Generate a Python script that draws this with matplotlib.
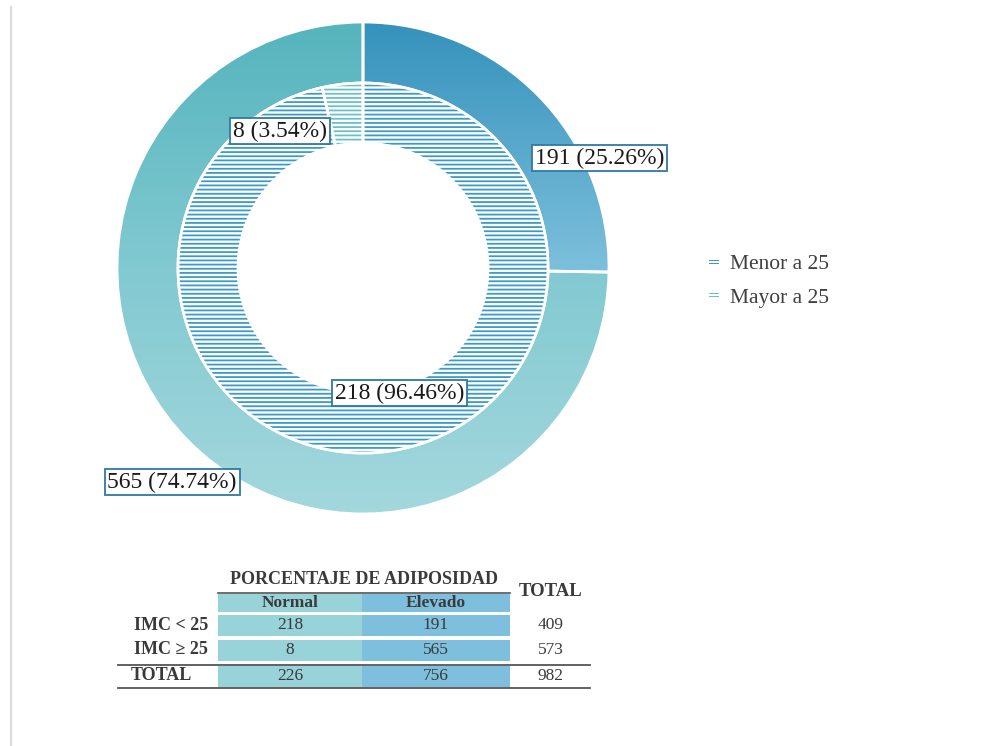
import numpy as np
import matplotlib.pyplot as plt
from matplotlib.colors import LinearSegmentedColormap
from matplotlib.patches import Rectangle
from matplotlib.lines import Line2D

plt.rcParams['font.family'] = ['Liberation Serif', 'DejaVu Serif', 'DejaVu Sans']
plt.rcParams['hatch.linewidth'] = 1.3

# datos: IMC vs porcentaje de adiposidad
grupos = ['Menor a 25', 'Mayor a 25']
normal = [218, 8]
elevado = [191, 565]
filas = ['IMC < 25', 'IMC \u2265 25']
columnas = ['Normal', 'Elevado']

# colores
azul = '#3b9bc6'
turquesa = '#6cc0c8'
grad_elev = [['#3592bc', '#7cbfdb', '#a8d6ea'], ['#55b4bd', '#82c9d1', '#a3d8dd']]
borde_etq = '#2f7aa0'

W, H = 990, 746
fig = plt.figure(figsize=(W / 100, H / 100), dpi=100)

# linea gris a la izquierda
fig.add_artist(Line2D([11 / W, 11 / W], [0, 1 - 7 / H], color='#dcdcdc', lw=1.6))

# ---- dona ----
cx, cy, R = 363, 268, 246
ax = fig.add_axes([(cx - R) / W, 1 - (cy + R) / H, 2 * R / W, 2 * R / H])
ax.set_xlim(-1, 1)
ax.set_ylim(-1, 1)
ax.axis('off')

r_in = 185 / R
r_hole = 125 / R

wed_out, _ = ax.pie(elevado, radius=1, startangle=90, counterclock=False,
                    wedgeprops=dict(width=1 - r_in, edgecolor='white', linewidth=2))
for w, cols in zip(wed_out, grad_elev):
    w.set_facecolor('none')
    cmap = LinearSegmentedColormap.from_list('g', cols)
    im = ax.imshow(np.linspace(0, 1, 256).reshape(-1, 1), cmap=cmap, aspect='auto',
                   extent=[-1, 1, -1, 1], origin='upper', zorder=0)
    im.set_clip_path(w)

wed_in, _ = ax.pie(normal, radius=r_in, startangle=90, counterclock=False,
                   wedgeprops=dict(width=r_in - r_hole, linewidth=0))
for w, c in zip(wed_in, [azul, turquesa]):
    w.set_facecolor('white')
    w.set_edgecolor(c)
    w.set_hatch('----')
# borde blanco del anillo interior
ax.pie(normal, radius=r_in, startangle=90, counterclock=False,
       wedgeprops=dict(width=r_in - r_hole, facecolor='none', edgecolor='white', linewidth=2))
ax.set_xlim(-1, 1)
ax.set_ylim(-1, 1)

# etiquetas de datos
pos_elev = [(0.963, 0.447), (-0.776, -0.870)]
pos_norm = [(0.150, -0.508), (-0.337, 0.557)]
for vals, pos in [(elevado, pos_elev), (normal, pos_norm)]:
    tot = sum(vals)
    for v, (x, y) in zip(vals, pos):
        ax.text(x, y, f'{v} ({v / tot * 100:.2f}%)', ha='center', va='center',
                fontsize=17, color='#1a1a1a', zorder=5,
                bbox=dict(boxstyle='square,pad=0.12', fc='white', ec=borde_etq, lw=1.3))

# leyenda
handles = [Line2D([], [], ls='none', marker='$=$', markersize=7, color=c, markeredgewidth=0)
           for c in [azul, turquesa]]
fig.legend(handles, grupos, loc='center left', bbox_to_anchor=(688 / W, 1 - 281 / H),
           frameon=False, fontsize=15.5, handlelength=0.6, handletextpad=0.45,
           labelspacing=0.62, labelcolor='#404040')

# ---- tabla ----
tx = fig.add_axes([0, 0, 1, 1])
tx.set_xlim(0, W)
tx.set_ylim(H, 0)
tx.axis('off')

col_x = [218, 362, 512]     # bordes de las columnas Normal / Elevado
col_w = [144, 148]
col_c = ['#99d3da', '#7dbfdc']
tot_x = 551
row_y = [625, 650, 676]     # centros de filas
row_h = [21, 21, 21]
hdr_y = 603
txt = '#3a3a3a'

normal_tot = sum(normal)
elev_tot = sum(elevado)
valores = [[normal[0], elevado[0], normal[0] + elevado[0]],
           [normal[1], elevado[1], normal[1] + elevado[1]],
           [normal_tot, elev_tot, normal_tot + elev_tot]]
etiquetas = filas + ['TOTAL']

# celdas coloreadas
for j in range(2):
    tx.add_patch(Rectangle((col_x[j], hdr_y - 9), col_w[j], 18, fc=col_c[j], ec='none'))
    for yc, h in zip(row_y, row_h):
        tx.add_patch(Rectangle((col_x[j], yc - h / 2), col_w[j], h, fc=col_c[j], ec='none'))
    tx.text(col_x[j] + col_w[j] / 2, hdr_y, columnas[j], ha='center', va='center',
            fontsize=12.5, fontweight='bold', color=txt)

tx.text(364, 580, 'PORCENTAJE DE ADIPOSIDAD', ha='center', va='center',
        fontsize=13, fontweight='bold', color=txt)
tx.text(tot_x, 591, 'TOTAL', ha='center', va='center',
        fontsize=13.5, fontweight='bold', color=txt)
tx.plot([218, 510], [592.5, 592.5], color='#555555', lw=1.2)

for i, (lab, fila) in enumerate(zip(etiquetas, valores)):
    yc = row_y[i]
    tx.text(208 if i < 2 else 161, yc, lab, ha='right' if i < 2 else 'center', va='center',
            fontsize=13, fontweight='bold', color=txt)
    for j in range(2):
        tx.text(col_x[j] + col_w[j] / 2, yc, str(fila[j]), ha='center', va='center',
                fontsize=12.5, color=txt)
    tx.text(tot_x, yc, str(fila[2]), ha='center', va='center', fontsize=12.5, color=txt)

tx.plot([118, 590], [664.5, 664.5], color='#555555', lw=1.3)
tx.plot([118, 590], [687.5, 687.5], color='#555555', lw=1.3)

fig.savefig('out.png', dpi=100, facecolor='white')
